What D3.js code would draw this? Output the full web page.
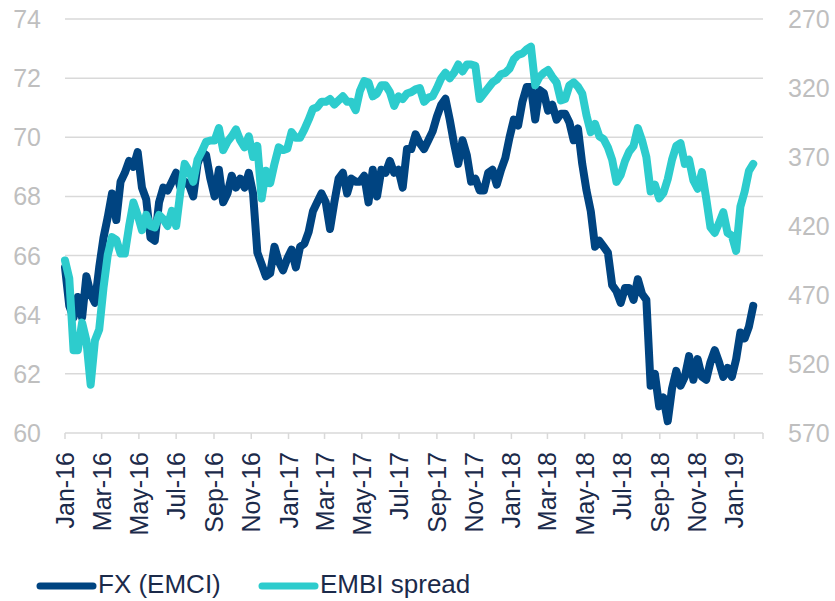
<!DOCTYPE html>
<html>
<head>
  <meta charset="UTF-8">
  <style>
    body { margin: 0; background: #fff; }
    text { font-family: "Liberation Sans", Arial, sans-serif; }
  </style>
</head>
<body>
  <svg></svg>

<script src="https://d3js.org/d3.v7.min.js"></script>
<script>

    let width = 835;
    let height = 601;

    // weekly observations starting on this date
    let firstWeek = "2016-01-01";

    // FX (EMCI) index, left axis
    let fxValues = [
      65.6, 64.3, 63.9, 64.6, 63.9, 65.3, 64.7, 64.4, 65.6, 66.6,
      67.3, 68.1, 67.2, 68.5, 68.8, 69.2, 69.0, 69.5, 68.3, 67.9,
      66.6, 66.5, 67.8, 68.3, 68.2, 68.5, 68.8, 68.3, 68.5, 68.4,
      68.0, 69.1, 69.5, 69.4, 68.6, 68.0, 68.9, 67.8, 68.1, 68.7,
      68.3, 68.6, 68.3, 68.8, 68.1, 66.1, 65.7, 65.3, 65.4, 66.3,
      65.8, 65.5, 65.9, 66.2, 65.6, 66.3, 66.4, 66.8, 67.5, 67.8,
      68.1, 67.8, 66.9, 67.8, 68.6, 68.8, 68.1, 68.6, 68.5, 68.5,
      68.7, 67.8, 68.9, 68.0, 68.9, 68.8, 69.2, 68.8, 68.9, 68.3,
      69.6, 69.6, 70.1, 69.8, 69.6, 69.9, 70.2, 70.7, 71.1, 71.3,
      70.6, 69.8, 69.1, 69.9, 69.4, 68.5, 68.6, 68.2, 68.2, 68.8,
      68.9, 68.4, 68.9, 69.3, 70.0, 70.6, 70.4, 71.2, 71.7, 71.7,
      70.6, 71.6, 71.5, 70.9, 71.1, 70.6, 70.8, 70.8, 70.5, 69.9,
      70.3, 69.1, 68.2, 67.5, 66.3, 66.5, 66.3, 66.1, 65.0, 64.8,
      64.4, 64.9, 64.9, 64.5, 65.2, 64.7, 64.5, 61.6, 62.0, 60.9,
      61.2, 60.4, 61.5, 62.1, 61.6, 61.9, 62.6, 61.8, 62.5, 61.9,
      61.8, 62.4, 62.8, 62.4, 61.9, 62.2, 61.9, 62.5, 63.4, 63.2,
      63.6, 64.3
    ];

    // EMBI spread (bp), right axis, inverted
    let embiValues = [
      445, 458, 510, 510, 490, 503, 535, 503, 495, 465,
      441, 428, 430, 440, 440, 420, 403, 412, 423, 412,
      420, 421, 412, 415, 420, 409, 420, 395, 375, 380,
      388, 372, 366, 359, 358, 358, 349, 365, 359, 355,
      350, 358, 363, 355, 370, 362, 400, 380, 389, 375,
      363, 365, 364, 352, 356, 356, 350, 343, 335, 334,
      330, 330, 328, 332, 329, 326, 330, 330, 336, 322,
      315, 316, 326, 324, 318, 318, 323, 333, 326, 328,
      324, 323, 321, 320, 330, 327, 326, 320, 313, 309,
      313, 309, 303, 308, 303, 303, 304, 328, 324, 320,
      316, 314, 310, 309, 306, 299, 296, 295, 292, 290,
      318, 312, 309, 307, 312, 316, 329, 328, 318, 316,
      319, 324, 340, 352, 346, 355, 357, 363, 372, 388,
      383, 373, 366, 362, 349, 358, 370, 395, 390, 400,
      396, 386, 372, 362, 360, 375, 372, 387, 393, 381,
      400, 421, 425, 418, 410, 425, 427, 438, 406, 395,
      380, 375
    ];

    let leftTicks = [60, 62, 64, 66, 68, 70, 72, 74];
    let rightTicks = [270, 320, 370, 420, 470, 520, 570];
    let seriesNames = ["FX (EMCI)", "EMBI spread"];
    let seriesColors = ["#004481", "#2dcccd"];

    let parse = d3.timeParse("%Y-%m-%d");
    let start = parse(firstWeek);
    let dates = fxValues.map((v, i) => d3.timeDay.offset(start, 7 * i));

    let svg = d3.select("svg")
        .attr("width", width)
        .attr("height", height);

    let x = d3.scaleTime()
        .domain([parse("2016-01-01"), parse("2019-02-17")])
        .range([65, 763]);

    let yLeft = d3.scaleLinear().domain([60, 74]).range([433, 19]);
    let yRight = d3.scaleLinear().domain([570, 270]).range([433, 19]);

    // gridlines
    svg.append("g")
      .selectAll("line")
      .data(leftTicks)
      .enter()
      .append("line")
        .attr("x1", 65)
        .attr("x2", 763)
        .attr("y1", d => yLeft(d))
        .attr("y2", d => yLeft(d))
        .attr("stroke", "#d9d9d9")
        .attr("stroke-width", 1.5);

    // left labels
    svg.append("g")
      .selectAll("text")
      .data(leftTicks)
      .enter()
      .append("text")
        .attr("x", 41)
        .attr("y", d => yLeft(d))
        .attr("dy", "0.36em")
        .attr("text-anchor", "end")
        .attr("font-size", 25)
        .attr("fill", "#bfbfbf")
        .text(d => d);

    // right labels
    svg.append("g")
      .selectAll("text")
      .data(rightTicks)
      .enter()
      .append("text")
        .attr("x", 788)
        .attr("y", d => yRight(d))
        .attr("dy", "0.36em")
        .attr("text-anchor", "start")
        .attr("font-size", 25)
        .attr("fill", "#bfbfbf")
        .text(d => d);

    // x axis ticks and labels
    let monthTicks = d3.timeMonth.every(2).range(parse("2016-01-01"), parse("2019-02-02"));
    let fmt = d3.timeFormat("%b-%y");

    svg.append("g")
      .selectAll("line")
      .data(monthTicks.concat([x.domain()[1]]))
      .enter()
      .append("line")
        .attr("x1", d => x(d))
        .attr("x2", d => x(d))
        .attr("y1", 433)
        .attr("y2", 439)
        .attr("stroke", "#d9d9d9")
        .attr("stroke-width", 1.5);

    svg.append("g")
      .selectAll("text")
      .data(monthTicks)
      .enter()
      .append("text")
        .attr("transform", d => "translate(" + x(d) + ",452) rotate(-90)")
        .attr("dy", "0.36em")
        .attr("text-anchor", "end")
        .attr("font-size", 25)
        .attr("fill", "#1b2a4a")
        .text(d => fmt(d));

    // lines
    let fxLine = d3.line()
        .x((d, i) => x(dates[i]))
        .y(d => yLeft(d));

    let embiLine = d3.line()
        .x((d, i) => x(dates[i]))
        .y(d => yRight(d));

    svg.append("path")
      .datum(fxValues)
      .attr("d", fxLine)
      .attr("fill", "none")
      .attr("stroke", seriesColors[0])
      .attr("stroke-width", 8)
      .attr("stroke-linejoin", "round")
      .attr("stroke-linecap", "round");

    svg.append("path")
      .datum(embiValues)
      .attr("d", embiLine)
      .attr("fill", "none")
      .attr("stroke", seriesColors[1])
      .attr("stroke-width", 8)
      .attr("stroke-linejoin", "round")
      .attr("stroke-linecap", "round");

    // legend
    let legendX = [40, 262];
    let legend = svg.append("g")
      .selectAll("g")
      .data(seriesNames)
      .enter()
      .append("g")
        .attr("transform", (d, i) => "translate(" + legendX[i] + ",586)");

    legend.append("line")
      .attr("x1", 0)
      .attr("x2", 53)
      .attr("stroke", (d, i) => seriesColors[i])
      .attr("stroke-width", 7)
      .attr("stroke-linecap", "round");

    legend.append("text")
      .attr("x", 58)
      .attr("y", 7)
      .attr("font-size", 26)
      .attr("fill", "#1b2a4a")
      .text(d => d);

</script>
</body>
</html>
